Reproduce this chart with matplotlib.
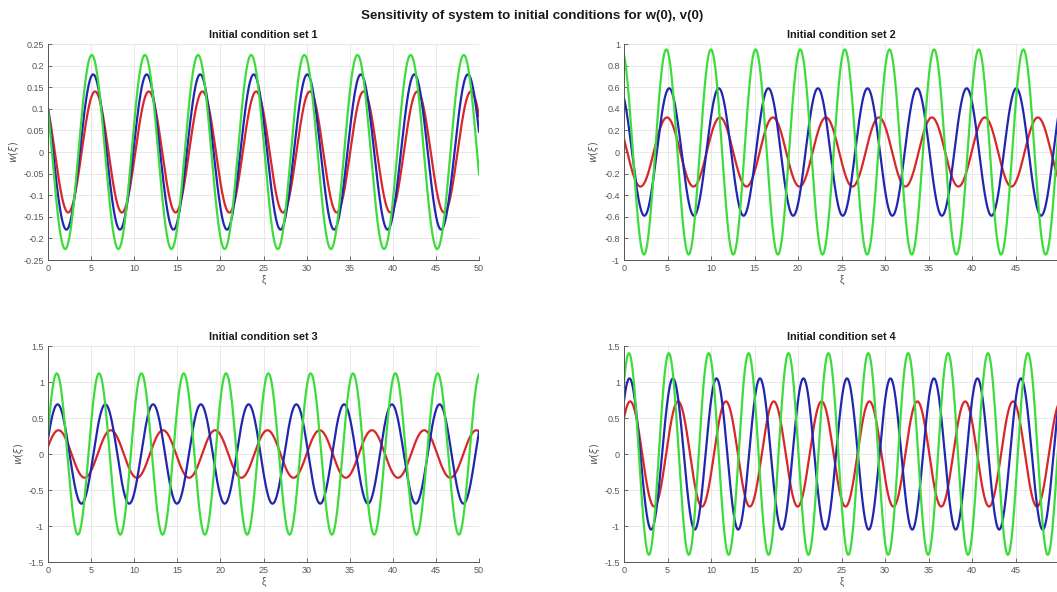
import numpy as np
import matplotlib.pyplot as plt

plt.rcParams['font.family'] = ['Liberation Sans', 'DejaVu Sans']

# initial conditions, order: red, blue, green
w0_sets = [[0.10, 0.10, 0.10],
           [0.12, 0.50, 0.90],
           [0.10, 0.21, 0.30],
           [0.50, 0.74, 1.00]]
v0_sets = [[-0.099, -0.151, -0.205],
           [-0.306, -0.345, -0.372],
           [0.326, 0.745, 1.381],
           [0.608, 0.936, 1.343]]
# oscillation period of each curve (in xi units)
period_sets = [[6.23, 6.21, 6.165],
               [6.09, 5.70, 5.13],
               [6.06, 5.54, 4.91],
               [5.50, 5.00, 4.585]]

titles = ['Initial condition set 1', 'Initial condition set 2',
          'Initial condition set 3', 'Initial condition set 4']
ylims = [(-0.25, 0.25), (-1, 1), (-1.5, 1.5), (-1.5, 1.5)]
ysteps = [0.05, 0.2, 0.5, 0.5]
xticks = np.arange(0, 51, 5)
colors = ['#d8262a', '#2126b0', '#3ddc3d']

W, H = 1057, 592
positions = [[48 / W, 1 - 260 / H, 431 / W, 216 / H],
             [624 / W, 1 - 260 / H, 435 / W, 216 / H],
             [48 / W, 1 - 562 / H, 431 / W, 216 / H],
             [624 / W, 1 - 562 / H, 435 / W, 216 / H]]

xi = np.linspace(0, 50, 2000)

fig = plt.figure(figsize=(W / 100, H / 100), dpi=100)
fig.text(0.503, 0.973, 'Sensitivity of system to initial conditions for w(0), v(0)',
         ha='center', va='center', fontsize=9.6, fontweight='bold', color='#1a1a1a')

for k in range(4):
    ax = fig.add_axes(positions[k])
    for w0, v0, T, c in zip(w0_sets[k], v0_sets[k], period_sets[k], colors):
        om = 2 * np.pi / T
        # solution of w'' + om^2 w = 0 with w(0)=w0, w'(0)=v0
        w = w0 * np.cos(om * xi) + v0 / om * np.sin(om * xi)
        ax.plot(xi, w, color=c, lw=1.6)

    lo, hi = ylims[k]
    yt = np.round(np.arange(lo, hi + ysteps[k] / 2, ysteps[k]), 6)
    ax.set_xlim(0, 50)
    ax.set_ylim(lo, hi)
    ax.set_xticks(xticks)
    xl = ['%g' % v for v in xticks]
    if k % 2 == 1:
        xl[-1] = ''  # falls past the right edge of the canvas
    ax.set_xticklabels(xl)
    ax.set_yticks(yt)
    ax.set_yticklabels(['%g' % v if v != 0 else '0' for v in yt])
    ax.tick_params(direction='in', length=3, width=0.6, labelsize=6.5,
                   colors='#555555', pad=3)
    ax.grid(True, color='#e4e4e4', lw=0.6)
    ax.set_axisbelow(True)
    for s in ['top', 'right']:
        ax.spines[s].set_visible(False)
    for s in ['left', 'bottom']:
        ax.spines[s].set_color('#555555')
        ax.spines[s].set_linewidth(0.7)
    ax.set_title(titles[k], fontsize=7.8, fontweight='bold', color='#1a1a1a', pad=4)
    ax.set_xlabel('ξ', fontsize=7, color='#555555', labelpad=1)
    ax.set_ylabel(r'$w(\xi)$', fontsize=7, color='#555555', labelpad=2)

fig.savefig('out.png', dpi=100)
